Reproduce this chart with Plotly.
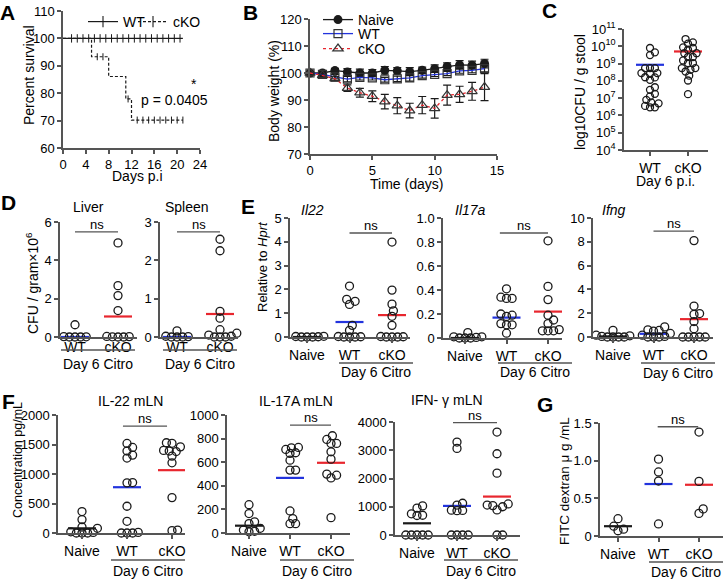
import numpy as np
import plotly.graph_objects as go

W, H = 726, 579
FONT = "Liberation Sans, Arial, Helvetica, sans-serif"
BLACK = "#1a1a1a"
AXC = "#555555"
BLUE = "#2233dd"
RED = "#e8262e"

# ======================= DATA =======================
# A: Kaplan-Meier survival
a_wt_days = [0, 21]
a_wt_surv = [100, 100]
a_wt_censored = [1.5, 2.5, 3.5, 4.5, 5.5, 6.5, 7.5, 8.5, 9.5, 10.5, 11.5, 12.5, 13.5, 14.5, 15.5, 16.5, 17.5, 18.5, 19.5, 20.5]
a_cko_days = [0, 5, 8, 11, 12, 21]
a_cko_surv = [100, 93.3, 86.1, 77.9, 70.2, 70.2]
a_cko_censored = [6, 7, 11.4, 13, 14, 15, 16, 17, 18, 19, 20, 21]
a_groups = ["WT", "cKO"]
a_pvalue = "p = 0.0405"

# B: body weight
b_days = [0, 1, 2, 3, 4, 5, 6, 7, 8, 9, 10, 11, 12, 13, 14]
b_naive = [100, 100, 100.9, 100.4, 100, 100, 101, 100.8, 100.5, 101, 101.6, 102.4, 103.0, 102.9, 103.5]
b_naive_err = [0.3, 0.5, 0.8, 1.2, 1.4, 1.3, 1.4, 1.2, 1.5, 1.2, 1.4, 1.4, 1.6, 1.5, 1.6]
b_wt = [100, 99.5, 98.6, 97.7, 98.4, 98.2, 97.5, 97.8, 98.2, 99.0, 99.5, 99.8, 100.8, 101.0, 101.6]
b_wt_err = [0.3, 0.6, 0.8, 1.0, 1.0, 0.8, 0.9, 1.0, 1.2, 0.9, 0.8, 0.8, 0.9, 0.9, 1.2]
b_cko = [100, 99.1, 97.9, 94.4, 92.7, 91.4, 89.4, 87.9, 86.1, 88.1, 86.9, 91.8, 92.1, 93.2, 94.8]
b_cko_err = [0.3, 0.6, 0.8, 1.2, 1.6, 2.0, 2.7, 3.0, 2.7, 3.2, 3.6, 3.7, 3.0, 3.3, 5.0]
b_groups = ["Naive", "WT", "cKO"]

# C: stool CFU (log10 values)
c_wt_log10 = [9.90, 9.65, 9.49, 8.74, 8.74, 8.74, 8.45, 8.45, 8.41, 8.21, 8.20, 8.06,
              7.63, 7.48, 7.25, 7.10, 6.90, 6.75, 6.70, 6.55, 6.47, 6.47]
c_cko_log10 = [10.42, 10.23, 10.15, 9.94, 9.90, 9.80, 9.60, 9.60, 9.38, 9.38, 9.18, 9.03,
               9.03, 8.74, 8.74, 8.64, 8.54, 8.30, 8.02, 7.23]
c_means_log10 = [8.93, 9.70]
c_cats = ["WT", "cKO"]
c_ticks = [4, 5, 6, 7, 8, 9, 10, 11]

# D: CFU in organs (x10^6 / gram)
d_cats = ["WT", "cKO"]
dl_wt = [0.64, 0.02, 0.01, 0, 0, 0]
dl_cko = [4.91, 2.68, 2.16, 1.38, 0.03, 0.02, 0.01, 0, 0]
dl_means = [0.0, 1.07]
ds_wt = [0.16, 0.02, 0.01, 0, 0, 0]
ds_cko = [2.55, 2.25, 0.67, 0.49, 0.19, 0.10, 0.05, 0.02, 0, 0, 0]
ds_means = [0.0, 0.60]

# E: qPCR relative to Hprt
e_cats = ["Naive", "WT", "cKO"]
e1_naive = [0.02, 0.01, 0, 0, 0, 0.03]
e1_wt = [2.14, 1.58, 1.50, 1.37, 0.49, 0.28, 0.02, 0.01, 0, 0, 0]
e1_cko = [3.99, 1.97, 1.38, 1.10, 0.87, 0.49, 0.02, 0.01, 0, 0, 0]
e1_means = [0.0, 0.63, 0.92]
e2_naive = [0.045, 0.01, 0.005, 0, 0, 0, 0.01]
e2_wt = [0.41, 0.33, 0.34, 0.33, 0.19, 0.20, 0.18, 0.11, 0.12, 0.11, 0.04]
e2_cko = [0.81, 0.43, 0.32, 0.19, 0.15, 0.12, 0.07, 0.06, 0.06, 0.06]
e2_means = [0.0, 0.17, 0.22]
e3_naive = [0.56, 0.15, 0.05, 0, 0, 0, 0, 0.1]
e3_wt = [0.85, 0.60, 0.55, 0.50, 0.30, 0.15, 0.05, 0, 0, 0]
e3_cko = [8.1, 2.6, 1.97, 1.9, 1.3, 0.7, 0, 0, 0, 0, 0]
e3_means = [0.05, 0.27, 1.5]

# F: cytokines in mLN (pg/mL)
f1_naive = [363, 227, 102, 80, 20, 10, 0, 0, 0]
f1_wt = [1518, 1450, 1390, 1320, 1270, 855, 850, 453, 198, 10, 0, 0, 0]
f1_cko = [1530, 1520, 1460, 1400, 1390, 1380, 1303, 1190, 600, 40, 50]
f1_means = [79, 776, 1065]
f2_naive = [240, 165, 95, 80, 40, 25, 15, 10]
f2_wt = [725, 722, 708, 680, 674, 617, 533, 533, 187, 122, 79, 79]
f2_cko = [824, 793, 759, 759, 688, 626, 499, 490, 467, 130]
f2_means = [62, 467, 595]
f3_naive = [1030, 950, 750, 700, 690, 0, 0, 0, 0, 0]
f3_wt = [3290, 3065, 1124, 1060, 880, 870, 860, 0, 0, 0, 0]
f3_cko = [3645, 2876, 2190, 1100, 1060, 1040, 1000, 887, 0, 0]
f3_means = [414, 1030, 1360]

# G: FITC dextran (ug/mL)
g_naive = [0.23, 0.13, 0.09, 0.07]
g_wt = [1.02, 0.85, 0.73, 0.16]
g_cko = [1.38, 0.725, 0.36, 0.30]
g_means = [0.13, 0.69, 0.68]

# ======================= LAYOUT GEOMETRY (pixels) =======================
GEOM = {
    'A':  dict(x=(63, 200), y=(11, 148), xr=(0, 24), yr=(60, 110)),
    'B':  dict(x=(310, 497), y=(19, 154), xr=(0, 15), yr=(70, 120)),
    'C':  dict(x=(624, 708), y=(29, 150), cat=(650, 688), n=2, yr=(4, 11), log=True),
    'DL': dict(x=(60, 137), y=(222, 337), cat=(75, 118), n=2, yr=(0, 6)),
    'DS': dict(x=(160, 238), y=(222, 337), cat=(177, 220), n=2, yr=(0, 3)),
    'E1': dict(x=(290, 410), y=(218, 337), cat=(307, 392), n=3, yr=(0, 5)),
    'E2': dict(x=(443, 562), y=(218, 338), cat=(465, 548), n=3, yr=(0, 1)),
    'E3': dict(x=(593, 713), y=(218, 337), cat=(613, 694), n=3, yr=(0, 10)),
    'F1': dict(x=(58, 185), y=(415, 533), cat=(82, 172), n=3, yr=(0, 2000)),
    'F2': dict(x=(227, 350), y=(415, 533), cat=(249, 331), n=3, yr=(0, 1000)),
    'F3': dict(x=(395, 520), y=(422, 535), cat=(417, 497), n=3, yr=(0, 4000)),
    'G':  dict(x=(600, 723), y=(423, 536), cat=(618, 699), n=3, yr=(0, 1.5)),
}
for k, g in GEOM.items():
    if 'cat' in g:
        kx = (g['cat'][1] - g['cat'][0]) / (g['n'] - 1)
        g['xr'] = (-(g['cat'][0] - g['x'][0]) / kx, (g['n'] - 1) + (g['x'][1] - g['cat'][1]) / kx)
    g['kx'] = (g['x'][1] - g['x'][0]) / (g['xr'][1] - g['xr'][0])
    g['ky'] = (g['y'][1] - g['y'][0]) / (g['yr'][1] - g['yr'][0])

fig = go.Figure()
layout = dict(width=W, height=H, autosize=False,
              margin=dict(l=0, r=0, t=0, b=0, pad=0, autoexpand=False),
              paper_bgcolor='white', plot_bgcolor='white', showlegend=True,
              font=dict(family=FONT, size=13, color='black'))
AXN = {}
common = dict(showline=True, linecolor=AXC, linewidth=1.5, ticks='outside', ticklen=4,
              tickwidth=1.5, tickcolor=AXC, showgrid=False, zeroline=False, fixedrange=True,
              automargin=False, tickfont=dict(family=FONT, size=13, color='black'))
for i, (k, g) in enumerate(GEOM.items(), start=1):
    sfx = '' if i == 1 else str(i)
    AXN[k] = ('x' + sfx, 'y' + sfx)
    layout['xaxis' + sfx] = dict(common, domain=[g['x'][0] / W, g['x'][1] / W],
                                 range=list(g['xr']), anchor='y' + sfx)
    layout['yaxis' + sfx] = dict(common, domain=[1 - g['y'][1] / H, 1 - g['y'][0] / H],
                                 range=list(g['yr']), anchor='x' + sfx)
    if g.get('log'):
        layout['yaxis' + sfx]['type'] = 'log'


def xa(k):
    return layout['xaxis' + AXN[k][0][1:]]


def ya(k):
    return layout['yaxis' + AXN[k][1][1:]]


def set_lin_ticks(k, xt=None, yt=None, ylab=None):
    if xt is not None:
        xa(k).update(tickvals=xt, ticktext=[str(v) for v in xt])
    if yt is not None:
        ya(k).update(tickvals=yt, ticktext=ylab if ylab else [str(v) for v in yt])


ann = []


def text(x, y, s, size=14, **kw):
    d = dict(x=x / W, y=1 - y / H, xref='paper', yref='paper', text=s, showarrow=False,
             font=dict(family=FONT, size=size, color='black'), xanchor='center', yanchor='middle')
    d.update(kw)
    ann.append(d)


shapes = []


def hline_px(x0, x1, y):
    shapes.append(dict(type='line', xref='paper', yref='paper', x0=x0 / W, x1=x1 / W,
                       y0=1 - y / H, y1=1 - y / H, line=dict(color=AXC, width=1.3)))


def legend_box(name, x, y):
    # one single-entry legend, placed so its text starts near pixel x with its centre near pixel y
    layout[name] = dict(x=(x - 40) / W, y=1 - (y - 16) / H, xanchor='left', yanchor='top',
                        orientation='h', bgcolor='rgba(0,0,0,0)', itemwidth=30,
                        font=dict(family=FONT, size=14, color='black'))


# ---------- A ----------
def step_at(days, surv, t):
    v = surv[0]
    for d, s in zip(days, surv):
        if d <= t:
            v = s
    return v


xA, yA = AXN['A']
a_dash = ['solid', '3px,2px']
for gi, (days, surv, cens) in enumerate(((a_wt_days, a_wt_surv, a_wt_censored),
                                          (a_cko_days, a_cko_surv, a_cko_censored))):
    fig.add_trace(go.Scatter(x=days, y=surv, mode='lines',
                             line=dict(color=BLACK, width=1.2, shape='hv', dash=a_dash[gi]),
                             xaxis=xA, yaxis=yA, showlegend=False, cliponaxis=False))
    fig.add_trace(go.Scatter(x=cens, y=[step_at(days, surv, t) for t in cens], mode='markers',
                             marker=dict(symbol='line-ns-open', size=6 - gi, color=BLACK,
                                         line=dict(width=1.0, color=BLACK)),
                             xaxis=xA, yaxis=yA, showlegend=False, cliponaxis=False))
    fig.add_trace(go.Scatter(x=[None], y=[None], mode='lines+markers', name=a_groups[gi],
                             legend='legend%d' % (2 + gi * 3),
                             line=dict(color=BLACK, width=1.2, dash=a_dash[gi]),
                             marker=dict(symbol='line-ns-open', size=8, color=BLACK,
                                         line=dict(width=1.1, color=BLACK)),
                             xaxis=xA, yaxis=yA))
legend_box('legend2', 123, 22)
legend_box('legend5', 173, 22)
set_lin_ticks('A', xt=[0, 4, 8, 12, 16, 20, 24], yt=[60, 70, 80, 90, 100, 110])

# ---------- B ----------
xB, yB = AXN['B']
b_styles = [
    dict(line=dict(color=BLACK, width=1.3), marker=dict(symbol='circle', size=9, color=BLACK)),
    dict(line=dict(color=BLUE, width=1.3), marker=dict(symbol='square-open', size=8, color='#333',
                                                       line=dict(width=1.2, color='#333'))),
    dict(line=dict(color=RED, width=1.3, dash='dot'), marker=dict(symbol='triangle-up-open', size=9, color='#333',
                                                                  line=dict(width=1.2, color='#333'))),
]
b_legends = ['legend', 'legend3', 'legend4']
for nm, vals, err, st, lg in zip(b_groups, [b_naive, b_wt, b_cko], [b_naive_err, b_wt_err, b_cko_err],
                                 b_styles, b_legends):
    fig.add_trace(go.Scatter(x=b_days, y=vals, mode='lines+markers', name=nm, legend=lg,
                             error_y=dict(type='data', array=err, color=BLACK, thickness=1.2, width=4),
                             xaxis=xB, yaxis=yB, cliponaxis=False, **st))
legend_box('legend', 358, 20)
legend_box('legend3', 358, 34)
legend_box('legend4', 358, 49)
set_lin_ticks('B', xt=[0, 5, 10, 15], yt=[70, 80, 90, 100, 110, 120])


# ---------- dot plots ----------
def swarm(vals, g, diam, frac=0.7):
    v = np.asarray(vals, float)
    yv = np.log10(v) if g.get('log') else v
    ys = yv * g['ky']
    order = np.argsort(ys, kind='stable')
    placed = []
    offs = np.zeros(len(v))
    step = diam * frac / 4.0
    cands = [0.0]
    for kk in range(1, 200):
        cands += [kk * step, -kk * step]
    mind2 = (diam * frac) ** 2 - 1e-6
    for i in order:
        for c in cands:
            if all((c - px) ** 2 + (ys[i] - py) ** 2 >= mind2 for px, py in placed):
                offs[i] = c
                placed.append((c, ys[i]))
                break
    return offs / g['kx']


def dot_panel(k, groups, means, colors, cats, diam=8):
    g = GEOM[k]
    xk, yk = AXN[k]
    hw = 14 / g['kx']
    for i, m in enumerate(means):
        fig.add_trace(go.Scatter(x=[i - hw, i + hw], y=[m, m], mode='lines',
                                 line=dict(color=colors[i], width=2.2), xaxis=xk, yaxis=yk,
                                 showlegend=False, cliponaxis=False))
    for i, vals in enumerate(groups):
        offs = swarm(vals, g, diam)
        fig.add_trace(go.Scatter(x=i + offs, y=vals, mode='markers', xaxis=xk, yaxis=yk,
                                 showlegend=False, cliponaxis=False,
                                 marker=dict(symbol='circle-open', size=diam, color=BLACK,
                                             line=dict(width=1.3, color=BLACK))))
    xa(k).update(tickvals=list(range(len(cats))), ticktext=cats,
                 tickfont=dict(family=FONT, size=14, color='black'))


def sig(k, x0, x1, yv, s):
    xk, yk = AXN[k]
    fig.add_trace(go.Scatter(x=[x0, x1], y=[yv, yv], mode='lines', line=dict(color=AXC, width=1.3),
                             xaxis=xk, yaxis=yk, showlegend=False, cliponaxis=False))
    ytxt = np.log10(yv) if GEOM[k].get('log') else yv
    ann.append(dict(x=(x0 + x1) / 2, y=ytxt, xref=xk, yref=yk, text=s, showarrow=False,
                    yanchor='bottom', xanchor='center', yshift=-2,
                    font=dict(family=FONT, size=13, color='black')))


# C
c_wt = [10 ** v for v in c_wt_log10]
c_cko = [10 ** v for v in c_cko_log10]
dot_panel('C', [c_wt, c_cko], [10 ** v for v in c_means_log10], [BLUE, RED], c_cats, diam=7)
ya('C').update(tickvals=[10 ** t for t in c_ticks], ticktext=['10<sup>%d</sup>' % t for t in c_ticks])
sig('C', -0.16, 1.03, 10 ** 11.06, '**')

# D
dot_panel('DL', [dl_wt, dl_cko], dl_means, [BLUE, RED], d_cats)
dot_panel('DS', [ds_wt, ds_cko], ds_means, [BLUE, RED], d_cats)
set_lin_ticks('DL', yt=[0, 2, 4, 6])
set_lin_ticks('DS', yt=[0, 1, 2, 3])
for k in ('DL', 'DS'):
    xa(k).update(ticks='', ticklabelstandoff=-4)
sig('DL', 0, 1, 5.48, 'ns')
sig('DS', 0, 1, 2.74, 'ns')

# E
dot_panel('E1', [e1_naive, e1_wt, e1_cko], e1_means, [BLACK, BLUE, RED], e_cats)
dot_panel('E2', [e2_naive, e2_wt, e2_cko], e2_means, [BLACK, BLUE, RED], e_cats)
dot_panel('E3', [e3_naive, e3_wt, e3_cko], e3_means, [BLACK, BLUE, RED], e_cats)
set_lin_ticks('E1', yt=[0, 1, 2, 3, 4, 5])
set_lin_ticks('E2', yt=[0, 0.2, 0.4, 0.6, 0.8, 1.0], ylab=['0', '0.2', '0.4', '0.6', '0.8', '1.0'])
set_lin_ticks('E3', yt=[0, 2, 4, 6, 8, 10])
sig('E1', 1, 2, 4.37, 'ns')
sig('E2', 0.84, 2, 0.875, 'ns')
sig('E3', 1, 2, 8.9, 'ns')

# F
dot_panel('F1', [f1_naive, f1_wt, f1_cko], f1_means, [BLACK, BLUE, RED], e_cats)
dot_panel('F2', [f2_naive, f2_wt, f2_cko], f2_means, [BLACK, BLUE, RED], e_cats)
dot_panel('F3', [f3_naive, f3_wt, f3_cko], f3_means, [BLACK, BLUE, RED], e_cats)
set_lin_ticks('F1', yt=[0, 500, 1000, 1500, 2000])
set_lin_ticks('F2', yt=[0, 200, 400, 600, 800, 1000])
set_lin_ticks('F3', yt=[0, 1000, 2000, 3000, 4000])
sig('F1', 0.91, 1.89, 1813, 'ns')
sig('F2', 1, 2, 915, 'ns')
sig('F3', 0.9, 2, 3980, 'ns')

# G
dot_panel('G', [g_naive, g_wt, g_cko], g_means, [BLACK, BLUE, RED], e_cats)
set_lin_ticks('G', yt=[0, 0.5, 1.0, 1.5], ylab=['0', '0.5', '1.0', '1.5'])
sig('G', 0.98, 1.98, 1.45, 'ns')

# ---------- text annotations ----------
for lab, x, y in (("A", 0, 12.5), ("B", 243, 12.5), ("C", 542, 11), ("D", 1, 202),
                  ("E", 241, 206), ("F", 2, 401), ("G", 537, 404.5)):
    text(x - 2, y, "<b>%s</b>" % lab, size=21, xanchor='left')

# axis titles (vertical)
for s, x, y, sz in (("Percent survival", 29, 75, 14), ("Body weight (%)", 274, 91, 14),
                    ("log10CFU / g stool", 580, 92, 14), ("CFU / gram×10<sup>6</sup>", 32, 283, 14),
                    ("Relative to <i>Hprt</i>", 262, 267, 13), ("Concentration pg/mL", 18, 460, 12.5),
                    ("FITC dextran μ g /mL", 564, 481, 13.5)):
    text(x, y, s, size=sz, textangle=-90)

# x-axis titles
text(137, 176, "Days p.i", 14)
text(407, 184, "Time (days)", 14)
text(665, 181, "Day 6 p.i.", 14)

# panel titles
for s, x, y in (("Liver", 88, 207), ("Spleen", 187, 207), ("<i>Il22</i>", 312, 210),
                ("<i>Il17a</i>", 471, 210), ("<i>Ifng</i>", 614, 210),
                ("IL-22 mLN", 130, 401), ("IL-17A mLN", 296, 401), ("IFN- γ mLN", 447, 400)):
    text(x, y, s, 14)

# A annotations
text(174, 100, a_pvalue, 14)
text(194, 84, "*", 14)

# "Day 6 Citro" group labels with underline
for cx, ly, ty in ((98, 350, 364), (200, 350, 364), (376, 363, 372), (535, 363, 372), (678, 363, 372.5),
                   (148, 560, 571), (317, 560, 571), (481, 560, 571), (686, 562, 572)):
    hline_px(cx - 37, cx + 37, ly)
    text(cx, ty, "Day 6 Citro", 14)

layout['annotations'] = ann
layout['shapes'] = shapes
fig.update_layout(**layout)
fig.write_html("out.html", config={'displayModeBar': False},
               post_script="document.body.style.margin='0';")
